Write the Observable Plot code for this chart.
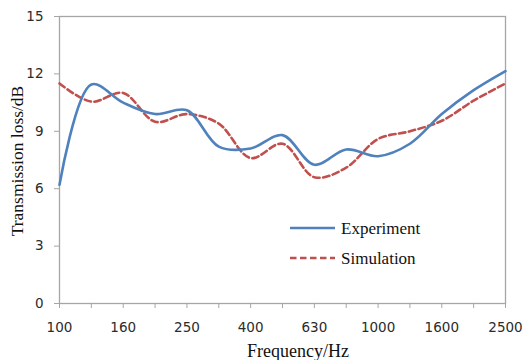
<!DOCTYPE html>
<html>
<head>
<meta charset="utf-8">
<script src="https://cdn.jsdelivr.net/npm/d3@7"></script>
<script src="https://cdn.jsdelivr.net/npm/@observablehq/plot@0.6"></script>
<style>
  body { margin: 0; background: #fff; }
  #chart { width: 524px; height: 360px; }
  #chart svg { display: block; }
</style>
</head>
<body>
<div id="chart"></div>
<script>
// One-third-octave band centre frequencies (Hz)
const bands = ["100", "125", "160", "200", "250", "315", "400", "500", "630", "800", "1000", "1250", "1600", "2000", "2500"];
// Bands that carry a tick label
const labelledBands = ["100", "160", "250", "400", "630", "1000", "1600", "2500"];
// Transmission loss (dB) per band
const experiment = [6.2, 11.45, 10.5, 9.9, 10.1, 8.2, 8.1, 8.8, 7.25, 8.05, 7.7, 8.35, 9.9, 11.15, 12.15];
const simulation = [11.5, 10.55, 11.0, 9.5, 9.9, 9.4, 7.6, 8.35, 6.6, 7.1, 8.6, 9.0, 9.55, 10.6, 11.5];
const yTicks = [0, 3, 6, 9, 12, 15];
const seriesNames = ["Experiment", "Simulation"];

const blue = "#4f81bd";
const red = "#c0504d";
const axisGray = "#a6a6a6";
const dash = "6.5,3.5";

const rows = bands.map((band, i) => ({band, experiment: experiment[i], simulation: simulation[i]}));

const plot = Plot.plot({
  width: 524,
  height: 360,
  marginLeft: 59,
  marginRight: 19,
  marginTop: 16,
  marginBottom: 57,
  style: {fontFamily: "DejaVu Sans, Verdana, sans-serif", fontSize: "13.5px", background: "#fff", overflow: "visible"},
  // unrounded point scale: first and last band sit on the frame edges
  x: {type: "point", domain: bands, padding: 0, round: false, label: null},
  y: {domain: [0, 15], label: null},
  marks: [
    Plot.frame({stroke: axisGray, strokeWidth: 1.3}),
    Plot.axisX({
      ticks: bands, tickSize: 5, tickPadding: 14, stroke: axisGray, fill: "#2b2b2b",
      tickFormat: d => labelledBands.includes(d) ? d : "", label: null
    }),
    Plot.axisY({
      ticks: yTicks, tickSize: 5, tickPadding: 11, stroke: axisGray, fill: "#2b2b2b", label: null
    }),
    Plot.line(rows, {x: "band", y: "simulation", curve: "catmull-rom", stroke: red, strokeWidth: 2.6, strokeDasharray: dash}),
    Plot.line(rows, {x: "band", y: "experiment", curve: "catmull-rom", stroke: blue, strokeWidth: 2.6})
  ]
});

document.getElementById("chart").appendChild(plot);

// Axis titles and in-plot legend
const svg = d3.select(plot);
const serif = "Liberation Serif, Times New Roman, serif";

svg.append("text")
  .attr("x", 298).attr("y", 357)
  .attr("text-anchor", "middle")
  .attr("font-family", serif).attr("font-size", 18).attr("fill", "#111")
  .text("Frequency/Hz");

svg.append("text")
  .attr("transform", "translate(23,161) rotate(-90)")
  .attr("text-anchor", "middle")
  .attr("font-family", serif).attr("font-size", 17.5).attr("fill", "#111")
  .text("Transmission loss/dB");

const legend = svg.append("g");
[[blue, null, 228], [red, dash, 258]].forEach(([color, da, y], i) => {
  legend.append("line")
    .attr("x1", 290).attr("x2", 335).attr("y1", y).attr("y2", y)
    .attr("stroke", color).attr("stroke-width", 2.6)
    .attr("stroke-dasharray", da);
  legend.append("text")
    .attr("x", 341).attr("y", y + 5.5)
    .attr("text-anchor", "start")
    .attr("font-family", serif).attr("font-size", 17).attr("fill", "#111")
    .text(seriesNames[i]);
});
</script>
</body>
</html>
